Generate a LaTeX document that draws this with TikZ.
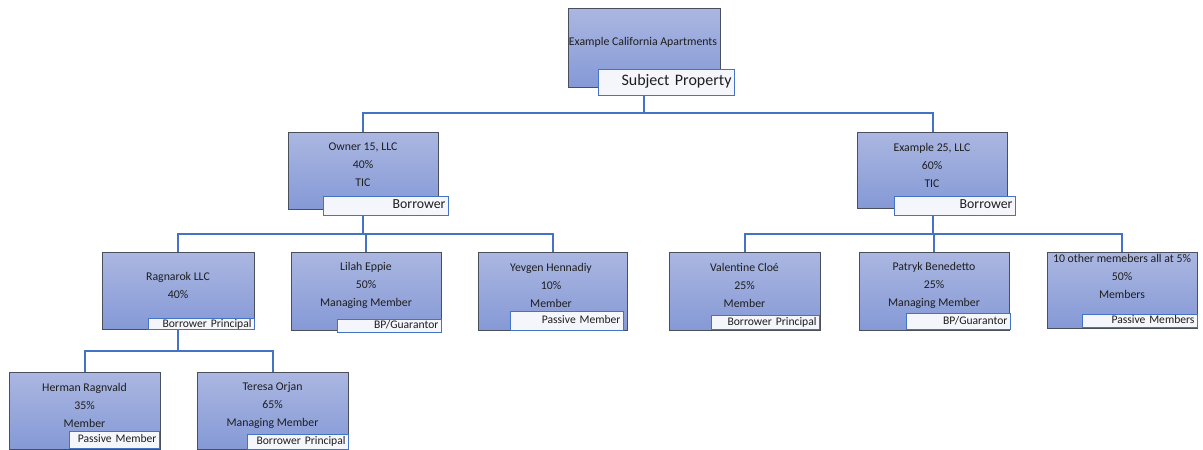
\documentclass[tikz,border=0pt]{standalone}
\usepackage{fontspec}
\setmainfont{Carlito}
\usetikzlibrary{backgrounds}
\definecolor{linkblue}{HTML}{4472C4}
\definecolor{boxline}{HTML}{4A4F5C}
\definecolor{boxtop}{HTML}{ABB7E1}
\definecolor{boxbot}{HTML}{8599D6}
\definecolor{lblfill}{HTML}{F5F6FB}
\definecolor{ink}{HTML}{1E1E1E}
\begin{document}
\begin{tikzpicture}[x=1pt,y=-1pt,
  ent/.style={draw=boxline, line width=0.9pt, top color=boxtop, bottom color=boxbot, inner sep=0pt},
  role/.style={draw=linkblue, line width=1pt, fill=lblfill, inner xsep=2.5pt, inner ysep=0pt, align=right,
    text height=6pt, text depth=0pt, text=ink, font=\fontsize{11.6}{12}\selectfont},
  bigrole/.style={role, font=\fontsize{13.8}{14}\selectfont},
  hugerole/.style={role, font=\fontsize{16}{16}\selectfont},
  txt/.style={align=center, font=\fontsize{11.8}{18}\selectfont, inner sep=0pt, text=ink},
  link/.style={draw=linkblue, line width=2pt}]
\useasboundingbox (0,0) rectangle (1203,450);

% ---- level 0
\node[ent, minimum width=152pt, minimum height=79pt] (top) at (644,47.5) {};
\node[txt] (top-t) at (643,42) {Example California Apartments};
\node[hugerole, minimum height=26pt, text width=131pt] (top-r) at (666,82) {Subject Property};

% ---- level 1
\node[ent, minimum width=150pt, minimum height=77pt] (own) at (363,170.5) {};
\node[txt] (own-t) at (363,165) {Owner 15, LLC\\40\%\\TIC};
\node[bigrole, minimum height=19pt, text width=120pt] (own-r) at (385.5,205.5) {Borrower};

\node[ent, minimum width=150pt, minimum height=76pt] (ex) at (932,170) {};
\node[txt] (ex-t) at (932,165.5) {Example 25, LLC\\60\%\\TIC};
\node[bigrole, minimum height=19pt, text width=116pt] (ex-r) at (954.5,205.5) {Borrower};

% ---- level 2
\node[ent, minimum width=152pt, minimum height=77pt] (rag) at (178,290.5) {};
\node[txt] (rag-t) at (178,285) {Ragnarok LLC\\40\%};
\node[role, minimum height=11pt, text width=101pt] (rag-r) at (201,324) {Borrower Principal};

\node[ent, minimum width=150pt, minimum height=78pt] (lil) at (366,291) {};
\node[txt] (lil-t) at (366,285) {Lilah Eppie\\50\%\\Managing Member};
\node[role, minimum height=13pt, text width=99pt] (lil-r) at (389,325.5) {BP/Guarantor};

\node[ent, minimum width=149pt, minimum height=78pt] (yev) at (552.5,291) {};
\node[txt] (yev-t) at (551,285) {Yevgen Hennadiy\\10\%\\Member};
\node[role, minimum height=19pt, text width=108pt] (yev-r) at (566.5,320.5) {Passive Member};

\node[ent, minimum width=151pt, minimum height=78pt] (val) at (744.5,291) {};
\node[txt] (val-t) at (744.5,285.5) {Valentine Cloé\\25\%\\Member};
\node[role, minimum height=14pt, text width=103pt] (val-r) at (765,322) {Borrower Principal};

\node[ent, minimum width=150pt, minimum height=78pt] (pat) at (934,291) {};
\node[txt] (pat-t) at (934,285.5) {Patryk Benedetto\\25\%\\Managing Member};
\node[role, minimum height=16pt, text width=99pt] (pat-r) at (958,321) {BP/Guarantor};

\node[ent, minimum width=150pt, minimum height=76pt] (oth) at (1122,290) {};
\node[txt] (oth-t) at (1122,276) {10 other memebers all at 5\%\\50\%\\Members};
\node[role, minimum height=13pt, text width=110pt] (oth-r) at (1139.5,320.5) {Passive Members};

% ---- level 3
\node[ent, minimum width=151pt, minimum height=77pt] (her) at (84.5,410.5) {};
\node[txt] (her-t) at (84.5,405) {Herman Ragnvald\\35\%\\Member};
\node[role, minimum height=17pt, text width=85pt] (her-r) at (114,439.5) {Passive Member};

\node[ent, minimum width=151pt, minimum height=77pt] (ter) at (272.5,410.5) {};
\node[txt] (ter-t) at (272.5,405) {Teresa Orjan\\65\%\\Managing Member};
\node[role, minimum height=15pt, text width=96pt] (ter-r) at (297.5,441.5) {Borrower Principal};

% ---- connectors
\coordinate (j0) at (644,113);
\coordinate (j1) at (363,234);
\coordinate (j2) at (933,234);
\coordinate (j3) at (178,351);
\begin{scope}[on background layer]
\draw[link] (top.center) -- (j0);
\draw[link] (j0) -| (own.center);
\draw[link] (j0) -| ([xshift=1pt]ex.center);
\draw[link] (own.center) -- (j1);
\draw[link] (j1) -| (rag.center);
\draw[link] (j1) -| (lil.center);
\draw[link] (j1) -| (yev.center);
\draw[link] ([xshift=1pt]ex.center) -- (j2);
\draw[link] (j2) -| (val.center);
\draw[link] (j2) -| (pat.center);
\draw[link] (j2) -| (oth.center);
\draw[link] (rag.center) -- (j3);
\draw[link] (j3) -| (her.center);
\draw[link] (j3) -| (ter.center);
\end{scope}
\end{tikzpicture}
\end{document}
